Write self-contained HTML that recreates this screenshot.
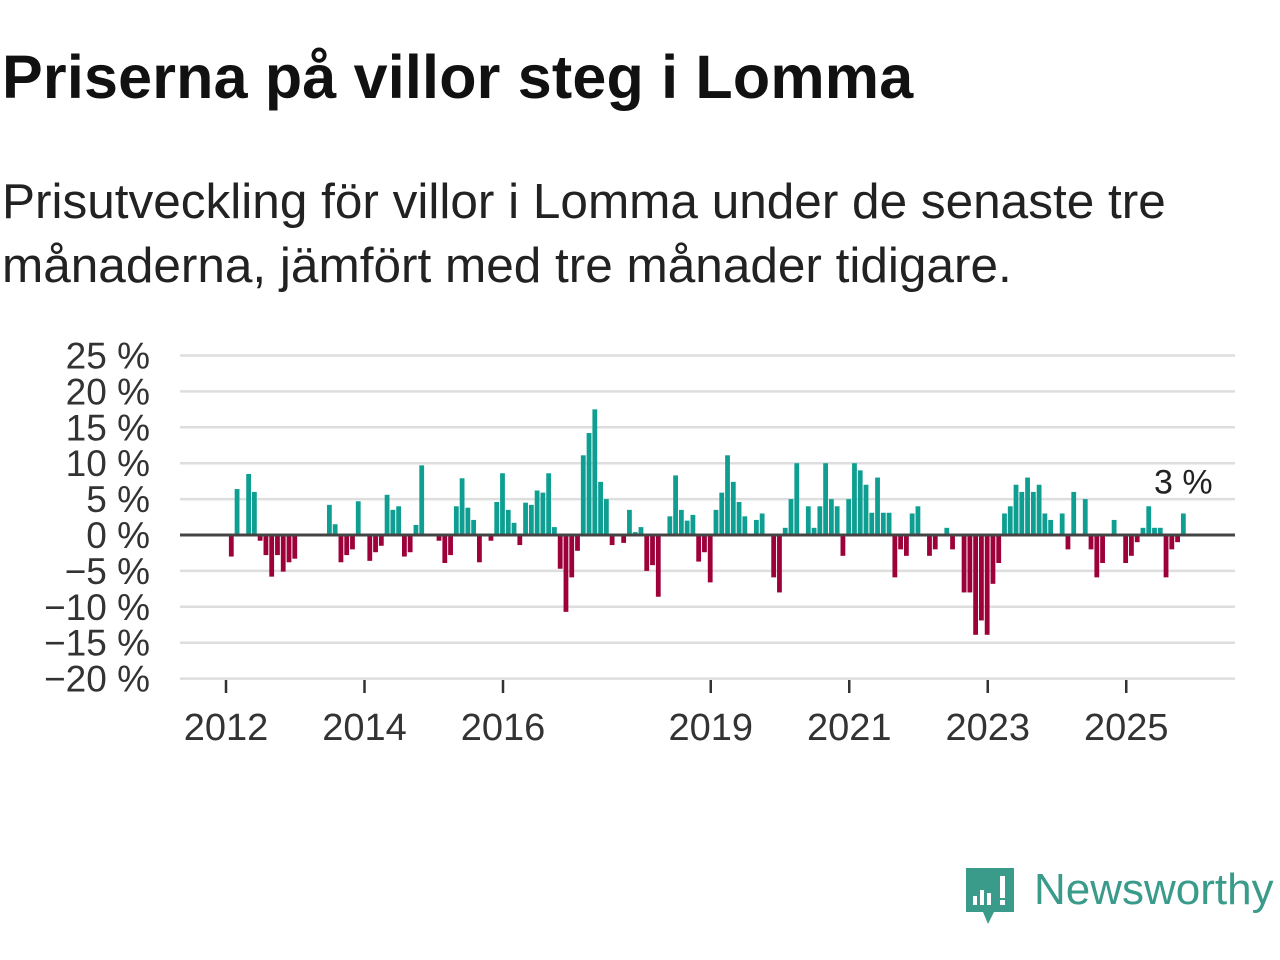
<!DOCTYPE html>
<html><head><meta charset="utf-8"><style>
html,body{margin:0;padding:0;background:#fff;width:1280px;height:960px;overflow:hidden;font-family:"Liberation Sans",sans-serif;}
#title{position:absolute;left:2px;top:42px;font-size:61px;font-weight:bold;color:#111;margin:0;letter-spacing:0.2px;white-space:nowrap;}
#sub{position:absolute;left:2px;top:170px;font-size:49.5px;color:#222;line-height:64px;margin:0;white-space:nowrap;}
svg{position:absolute;left:0;top:0;}
</style></head><body>
<h1 id="title">Priserna på villor steg i Lomma</h1>
<p id="sub">Prisutveckling för villor i Lomma under de senaste tre<br>månaderna, jämfört med tre månader tidigare.</p>
<svg id="chart" width="1280" height="960">
<g id="grid"></g><g id="bars"></g><g id="axes"></g>
<g>
<path d="M966,868 h48 v44 h-20 l-6,12 l-5,-12 h-17 z" fill="#3a9b8a"/>
<rect x="973" y="896" width="4" height="9" fill="#fff"/><rect x="980" y="890" width="4" height="15" fill="#fff"/><rect x="987" y="893" width="4" height="12" fill="#fff"/><rect x="1000" y="876" width="5" height="22" fill="#fff"/><rect x="1000" y="900" width="5" height="5" fill="#fff"/>
<text x="1034" y="904" font-size="44" fill="#3a9b8a" font-family="Liberation Sans, sans-serif">Newsworthy</text>
</g>
</svg>
<script>
const values=[-3,6.4,null,8.5,6,-0.8,-2.8,-5.8,-2.8,-5.1,-3.8,-3.3,
null,null,null,null,null,4.2,1.5,-3.8,-2.8,-2,4.7,null,
-3.6,-2.4,-1.5,5.6,3.5,4,-3,-2.4,1.4,9.7,null,null,
-0.8,-3.9,-2.8,4,7.9,3.8,2.1,-3.8,null,-0.8,4.6,8.6,
3.5,1.7,-1.4,4.5,4.2,6.2,5.9,8.6,1.1,-4.7,-10.7,-5.9,
-2.2,11.1,14.2,17.5,7.4,5,-1.4,null,-1.1,3.5,0.4,1.1,
-5,-4.2,-8.6,null,2.6,8.3,3.5,2,2.8,-3.7,-2.4,-6.6,
3.5,5.9,11.1,7.4,4.6,2.6,null,2.1,3,null,-5.9,-8,
1,5,10,null,4,1,4,10,5,4,-2.9,5,
10,9,7,3.1,8,3.1,3.1,-5.9,-2,-2.9,3,4,
null,-2.9,-2,null,1,-2,null,-8,-8,-13.9,-11.9,-13.9,
-6.8,-3.9,3,4,7,6,8,6,7,3,2.1,null,
3,-2,6,null,5,-2,-5.9,-3.9,null,2.1,null,-3.9,
-2.9,-1,1,4,1,1,-5.9,-2,-1,3];
const yTicks=[25,20,15,10,5,0,-5,-10,-15,-20];
const xYears=[2012,2014,2016,2019,2021,2023,2025];
const lastLabel="3 %";
const NS="http://www.w3.org/2000/svg";
const y=v=>535-v*7.18;
const xm=m=>231.3+m*5.77;
const xYear=yr=>226+(yr-2012)*69.25;
function mk(tag,attrs,parent){const e=document.createElementNS(NS,tag);for(const k in attrs)e.setAttribute(k,attrs[k]);parent.appendChild(e);return e;}
const grid=document.getElementById('grid'),bars=document.getElementById('bars'),axes=document.getElementById('axes');
yTicks.forEach(t=>{
 if(t!==0){const l=mk('line',{x1:180,x2:1235,y1:y(t),y2:y(t),stroke:'#dedede','stroke-width':2.5},grid);
 
 }
 const tx=mk('text',{x:150,y:y(t)+13,'text-anchor':'end','font-size':37,fill:'#333'},axes);
 tx.textContent=(t<0?'−'+(-t):t)+' %';
 
 
});
values.forEach((v,m)=>{
 if(v===null)return;
 const r=mk('rect',{x:xm(m)-2.4,width:4.8,y:v>=0?y(v):y(0),height:Math.abs(y(v)-y(0)),fill:v>=0?'#0f9f92':'#9e0039'},bars);
 
 
});
const zl=mk('line',{x1:180,x2:1235,y1:y(0),y2:y(0),stroke:'#444','stroke-width':3},axes);


xYears.forEach(yr=>{
 const t=mk('line',{x1:xYear(yr),x2:xYear(yr),y1:680,y2:693,stroke:'#333','stroke-width':2.5},axes);
 
 
 const tx=mk('text',{x:xYear(yr),y:740,'text-anchor':'middle','font-size':38,fill:'#333'},axes);
 tx.textContent=yr;
 
 
});
const li=values.length-1;
const lab=mk('text',{x:xm(li),y:y(values[li])-20,'text-anchor':'middle','font-size':34,fill:'#222',stroke:'#fff','stroke-width':6,'paint-order':'stroke'},axes);
lab.textContent=lastLabel;


</script>
</body></html>
